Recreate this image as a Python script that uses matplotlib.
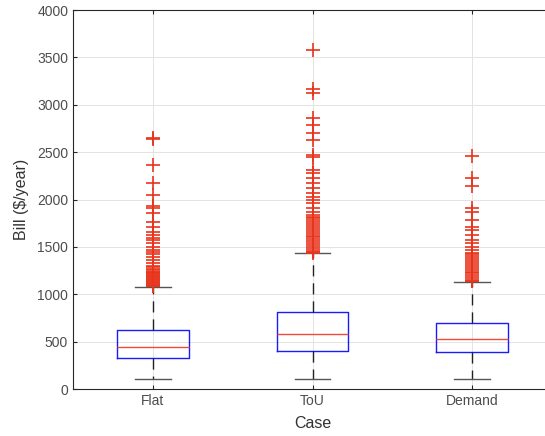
import matplotlib
matplotlib.use("Agg")
import matplotlib.pyplot as plt

plt.rcParams["font.family"] = ["Liberation Sans", "DejaVu Sans"]

cases = ["Flat", "ToU", "Demand"]
whisker_low = [105, 105, 105]
q1 = [324, 404, 394]
medians = [446, 580, 524]
q3 = [622, 816, 693]
whisker_high = [1079, 1432, 1132]

flat_outliers = [2650, 2640, 2363, 2170, 2047, 1931, 1906, 1860, 1759, 1706,
                 1660, 1625, 1590, 1572, 1537, 1502, 1470, 1449, 1420, 1396,
                 1360, 1326, 1300, 1291, 1270, 1255, 1240, 1230, 1220, 1210,
                 1200, 1190, 1180, 1170, 1160, 1150, 1140, 1130, 1120, 1110,
                 1100, 1090, 1082]
tou_outliers = [3577, 3162, 3120, 2856, 2785, 2697, 2627, 2465, 2450, 2310,
                2275, 2223, 2170, 2117, 2064, 2029, 1994, 1959, 1906, 1871,
                1836, 1818, 1800, 1780, 1760, 1740, 1720, 1700, 1680, 1660,
                1640, 1620, 1600, 1580, 1560, 1540, 1520, 1500, 1480, 1460,
                1445, 1435]
demand_outliers = [2458, 2223, 2142, 1906, 1871, 1783, 1706, 1677, 1625, 1572,
                   1537, 1502, 1466, 1440, 1420, 1400, 1380, 1360, 1340, 1320,
                   1300, 1280, 1260, 1240, 1220, 1200, 1180, 1160, 1145, 1135]
outliers = [flat_outliers, tou_outliers, demand_outliers]

stats = []
for i, name in enumerate(cases):
    stats.append({
        "label": name,
        "whislo": whisker_low[i],
        "q1": q1[i],
        "med": medians[i],
        "q3": q3[i],
        "whishi": whisker_high[i],
        "fliers": outliers[i],
    })

fig = plt.figure(figsize=(5.45, 4.36), dpi=100)
ax = fig.add_axes([73 / 545, 1 - 389 / 436, 479 / 545, 379 / 436])

ax.bxp(
    stats,
    positions=[1, 2, 3],
    widths=0.45,
    capwidths=0.225,
    boxprops=dict(color="#1a1aff", linewidth=1.0),
    medianprops=dict(color="#f04a3a", linewidth=1.0),
    whiskerprops=dict(color="#222222", linewidth=1.0, linestyle=(0, (8, 5))),
    capprops=dict(color="#555555", linewidth=1.0),
    flierprops=dict(marker="+", markeredgecolor="#e8341c", markersize=10,
                    markeredgewidth=1.2, linestyle="none"),
    zorder=3,
)

ax.set_xlim(0.5, 3.5)
ax.set_ylim(0, 4000)
ax.set_yticks(range(0, 4001, 500))
ax.grid(True, color="#e3e3e3", linewidth=0.7)
ax.set_axisbelow(True)
ax.tick_params(direction="in", top=True, right=True, labelsize=10,
               colors="#262626", labelcolor="#4d4d4d", length=3)
for spine in ax.spines.values():
    spine.set_color("#262626")
    spine.set_linewidth(0.8)

ax.set_xlabel("Case", fontsize=11.5, color="#333333", labelpad=6)
ax.set_ylabel("Bill (\\$/year)", fontsize=11.5, color="#333333", labelpad=6)

fig.savefig("out.png", dpi=100)
plt.close(fig)
